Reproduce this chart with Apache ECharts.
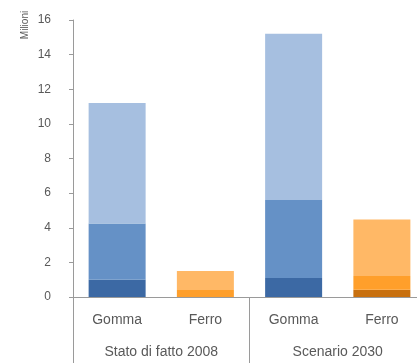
<!DOCTYPE html>
<html><head><meta charset="utf-8">
<script src="https://cdn.jsdelivr.net/npm/echarts@6/dist/echarts.min.js"></script>
<style>html,body{margin:0;padding:0;background:#fff;overflow:hidden;width:417px;height:363px}#c{width:426px;height:363px}</style>
</head><body><div id="c"></div>
<script>
var categories = ['Gomma', 'Ferro', 'Gomma', 'Ferro'];
var groups = ['Stato di fatto 2008', 'Scenario 2030'];
var bottomValues = [1.0, 0.0, 1.1, 0.42];
var middleValues = [3.25, 0.4, 4.5, 0.8];
var topValues = [6.95, 1.1, 9.6, 3.25];
var bottomColors = ['#3c69a4', '#c8700f', '#3c69a4', '#c8700f'];
var middleColors = ['#6591c6', '#ff9f2b', '#6591c6', '#ff9f2b'];
var topColors = ['#a6bfe0', '#ffb866', '#a6bfe0', '#ffb866'];
var yTicks = [0, 2, 4, 6, 8, 10, 12, 14, 16];

function mk(vals, cols) {
  return vals.map(function (v, i) { return { value: v, itemStyle: { color: cols[i] } }; });
}
var font = 'Liberation Sans, Arial, sans-serif';
var chart = echarts.init(document.getElementById('c'), null, { renderer: 'canvas' });
chart.setOption({
  animation: false,
  backgroundColor: '#fff',
  grid: { left: 73, right: 0, top: 20, bottom: 66, containLabel: false },
  graphic: [{
    type: 'text', x: 25, y: 25, rotation: Math.PI / 2,
    style: { text: 'Milioni', fontFamily: font, fontSize: 10, fill: '#595959', align: 'center', verticalAlign: 'middle' }
  }],
  yAxis: {
    type: 'value', min: yTicks[0], max: yTicks[yTicks.length - 1], interval: 2,
    axisLine: { show: true, lineStyle: { color: '#9a9a9a', width: 1 } },
    axisTick: { show: true, length: 4, lineStyle: { color: '#9a9a9a' } },
    axisLabel: { fontFamily: font, fontSize: 12, color: '#595959', margin: 22 },
    splitLine: { show: false }
  },
  xAxis: [{
    type: 'category', data: categories, position: 'bottom',
    axisLine: { show: true, lineStyle: { color: '#9a9a9a', width: 1 } },
    axisTick: { show: false },
    axisLabel: { fontFamily: font, fontSize: 14, color: '#595959', margin: 16 }
  }, {
    type: 'category', data: groups, position: 'bottom', offset: 0,
    axisLine: { show: false },
    axisTick: { show: true, length: 70, lineStyle: { color: '#9a9a9a' } },
    axisLabel: { fontFamily: font, fontSize: 14, color: '#595959', margin: 48 }
  }],
  series: [
    { type: 'bar', stack: 's', xAxisIndex: 0, barWidth: 57, data: mk(bottomValues, bottomColors) },
    { type: 'bar', stack: 's', xAxisIndex: 0, barWidth: 57, data: mk(middleValues, middleColors) },
    { type: 'bar', stack: 's', xAxisIndex: 0, barWidth: 57, data: mk(topValues, topColors) }
  ]
});
</script></body></html>
